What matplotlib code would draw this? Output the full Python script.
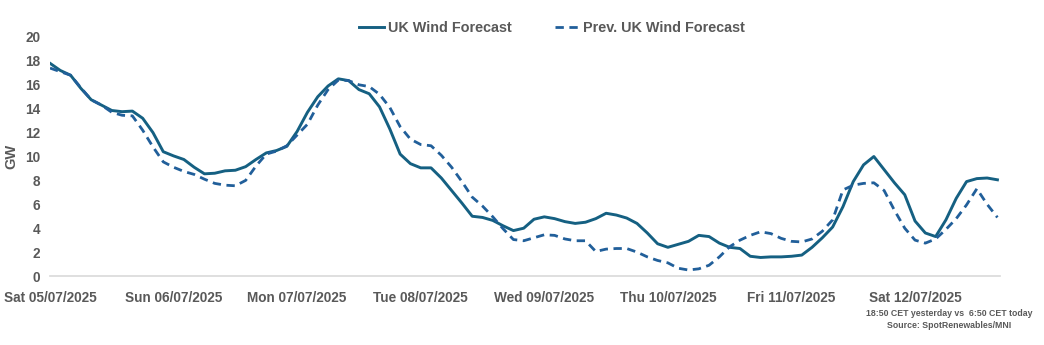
import pandas as pd
import matplotlib
matplotlib.use("Agg")
import matplotlib.pyplot as plt
import matplotlib.dates as mdates

# 2-hourly values, GW
start = "2025-07-05 00:00"
uk_wind = [
    17.8, 17.2, 16.8, 15.7, 14.75, 14.3, 13.85, 13.75, 13.8, 13.2,
    12.0, 10.4, 10.05, 9.75, 9.1, 8.55, 8.6, 8.8, 8.85, 9.15,
    9.75, 10.3, 10.5, 10.85, 12.1, 13.7, 15.0, 15.9, 16.5, 16.35,
    15.6, 15.25, 14.15, 12.3, 10.2, 9.4, 9.05, 9.05, 8.2, 7.15,
    6.1, 5.0, 4.9, 4.65, 4.2, 3.8, 4.0, 4.75, 4.95, 4.8,
    4.55, 4.4, 4.5, 4.8, 5.25, 5.1, 4.85, 4.4, 3.6, 2.7,
    2.4, 2.65, 2.9, 3.4, 3.3, 2.75, 2.4, 2.3, 1.65, 1.55,
    1.6, 1.6, 1.65, 1.75, 2.4, 3.2, 4.1, 5.8, 7.9, 9.3,
    10.0, 8.9, 7.8, 6.8, 4.6, 3.6, 3.3, 4.7, 6.5, 7.9,
    8.15, 8.2, 8.05,
]
prev_uk_wind = [
    17.4, 17.1, 16.8, 15.75, 14.75, 14.3, 13.7, 13.45, 13.4, 12.2,
    10.8, 9.55, 9.1, 8.75, 8.5, 8.1, 7.75, 7.6, 7.55, 8.0,
    9.2, 10.2, 10.45, 10.9, 11.8, 12.7, 14.3, 15.6, 16.4, 16.35,
    16.0, 15.85, 15.2, 14.1, 12.5, 11.45, 11.0, 10.9, 10.1, 9.1,
    7.9, 6.6, 5.85, 4.95, 3.95, 3.05, 2.95, 3.2, 3.45, 3.4,
    3.1, 2.95, 2.95, 2.05, 2.25, 2.3, 2.3, 2.0, 1.6, 1.3,
    1.1, 0.65, 0.5, 0.6, 0.9, 1.6, 2.45, 3.0, 3.4, 3.7,
    3.55, 3.15, 2.9, 2.85, 3.1, 3.75, 4.7, 7.2, 7.6, 7.75,
    7.8, 7.15, 5.5, 4.0, 3.0, 2.75, 3.1, 3.9, 4.8, 5.95,
    7.3, 6.0, 4.9,
]
tick_days = pd.date_range("2025-07-05", "2025-07-12", freq="D")

times = pd.date_range(start, periods=len(uk_wind), freq="2h")

grey = "#595959"
plt.rcParams["font.family"] = ["Liberation Sans", "DejaVu Sans"]
plt.rcParams["font.weight"] = "bold"

fig = plt.figure(figsize=(10.44, 3.45), dpi=100)
ax = fig.add_axes([50 / 1044, 69 / 345, 950 / 1044, 239 / 345])

ax.plot(times, uk_wind, color="#156082", lw=2.1, label="UK Wind Forecast")
ax.plot(times, prev_uk_wind, color="#215f9a", lw=2.0, ls=(0, (3, 2)),
        label="Prev. UK Wind Forecast")

ax.set_ylim(0, 20)
ax.set_yticks(range(0, 21, 2))
ax.set_xlim(pd.Timestamp(start), pd.Timestamp(start) + pd.Timedelta(hours=184.5))
ax.set_xticks(tick_days)
ax.xaxis.set_major_formatter(mdates.DateFormatter("%a %d/%m/%Y"))

for s in ["top", "right", "left"]:
    ax.spines[s].set_visible(False)
ax.spines["bottom"].set_color("#d9d9d9")
ax.spines["bottom"].set_linewidth(1.2)
ax.tick_params(axis="both", length=0, colors=grey, labelsize=9.8)
ax.tick_params(axis="x", pad=11)
ax.tick_params(axis="y", pad=7)
for lab in ax.get_xticklabels() + ax.get_yticklabels():
    lab.set_fontweight("bold")

ax.set_ylabel("GW", color=grey, fontsize=10.5, fontweight="bold")
ax.yaxis.set_label_coords(-32 / 950, 0.5)

ax.legend(loc="center", bbox_to_anchor=((552 - 50) / 950, 1 + 9 / 239), ncol=2,
          frameon=False, handlelength=1.7, handletextpad=0.25, columnspacing=3.0,
          labelcolor=grey, prop={"weight": "bold", "size": 10.4})

fig.text(949 / 1044, 1 - 313 / 345, "18:50 CET yesterday vs  6:50 CET today",
         ha="center", va="center", fontsize=6.3, color=grey, fontweight="bold")
fig.text(949 / 1044, 1 - 326 / 345, "Source: SpotRenewables/MNI",
         ha="center", va="center", fontsize=6.3, color=grey, fontweight="bold")

fig.savefig("out.png", dpi=100)
